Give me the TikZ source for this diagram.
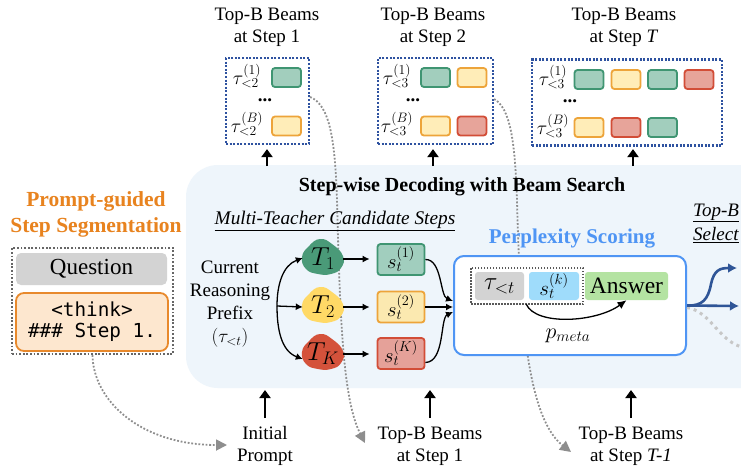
\RequirePackage{fix-cm}
\documentclass[tikz,border=0pt]{standalone}
\usepackage{fontspec}
\setmainfont{Liberation Serif}
\setmonofont{DejaVu Sans Mono}
\usetikzlibrary{arrows.meta}
\definecolor{panelbg}{HTML}{EEF5FB}
\definecolor{dblue}{HTML}{2E52A0}
\definecolor{gfill}{HTML}{A2CEBD}
\definecolor{gline}{HTML}{3F9572}
\definecolor{yfill}{HTML}{FFEDB8}
\definecolor{yline}{HTML}{EDA43A}
\definecolor{rfill}{HTML}{E7A49A}
\definecolor{rline}{HTML}{D24D37}
\definecolor{tgreen}{HTML}{4A9A78}
\definecolor{tyellow}{HTML}{FFD966}
\definecolor{tred}{HTML}{D4523B}
\definecolor{orangeT}{HTML}{E8831F}
\definecolor{ppblue}{HTML}{4F95F4}
\definecolor{arrblue}{HTML}{2F5597}
\definecolor{qgray}{HTML}{D3D3D3}
\definecolor{thinkfill}{HTML}{FDE7CF}
\definecolor{thinkline}{HTML}{E8892C}
\definecolor{skblue}{HTML}{9FDCFB}
\definecolor{ansgreen}{HTML}{B4E3A2}
\definecolor{dotgray}{HTML}{8E8E8E}
\definecolor{s1fill}{HTML}{A1CEBE}
\definecolor{s2fill}{HTML}{FBE9B0}
\definecolor{skfill}{HTML}{E5A199}
\newcommand\myfs[2]{\fontsize{#1}{#2}\selectfont}
\begin{document}
\begin{tikzpicture}[x=1pt,y=-1pt,
  lbl/.style={font=\myfs{19}{22}, align=center, inner sep=0pt},
  mini/.style={rounded corners=3pt, line width=1.8pt, minimum width=29pt, minimum height=19pt, inner sep=0pt},
  gmini/.style={mini, fill=gfill, draw=gline},
  ymini/.style={mini, fill=yfill, draw=yline},
  rmini/.style={mini, fill=rfill, draw=rline},
  taulbl/.style={font=\myfs{19.5}{22}, inner sep=0pt},
  dotslbl/.style={font=\myfs{19}{22}\bfseries, inner sep=0pt},
  beambox/.style={draw=dblue, line width=2.2pt, dash pattern=on 2pt off 1.6pt, inner sep=0pt},
  bigarrow/.style={line width=2.8pt, -{Triangle[length=8pt,width=11pt]}},
  gcurve/.style={draw=dotgray, line width=1.8pt, dash pattern=on 1.8pt off 1.8pt, -{Triangle[length=11pt,width=11pt,fill=dotgray]}},
  sbox/.style={line width=1.8pt, rounded corners=3pt, minimum width=47pt, minimum height=31pt, inner sep=0pt, font=\myfs{20.5}{22}},
  tnode/.style={minimum width=40pt, minimum height=34pt, inner sep=0pt, font=\myfs{26}{28}},
  fork/.style={line width=1.3pt, -{Latex[length=7pt,width=7pt]}},
  ppbox/.style={rounded corners=3pt, minimum height=28pt, inner sep=0pt},
  blob/.style={smooth cycle, tension=0.8}
]
\clip (0,0) rectangle (741,467);
\fill[white] (0,0) rectangle (741,467);

% panel
\fill[panelbg, rounded corners=32pt] (186,165) rectangle (800,388);

% top beam boxes
\node[beambox, minimum width=83pt, minimum height=86pt] (b1) at (267.5,101) {};
\node[beambox, minimum width=115pt, minimum height=86pt] (b2) at (435.5,101) {};
\node[beambox, minimum width=190pt, minimum height=86pt] (bT) at (627,102.5) {};

\node[lbl] (h1) at (267,27) {Top-B Beams\\at Step 1};
\node[lbl] (h2) at (433,27) {Top-B Beams\\at Step 2};
\node[lbl] (hT) at (624,27) {Top-B Beams\\at Step \textit{T}};

% step 1 contents
\node[taulbl] (a11) at (247,76) {$\tau^{(1)}_{<2}$};
\node[dotslbl] (a1d) at (265,100) {...};
\node[taulbl] (a12) at (247,124) {$\tau^{(B)}_{<2}$};
\node[gmini] (m111) at (286.5,77.5) {};
\node[ymini] (m121) at (286.5,126) {};

% step 2 contents
\node[taulbl] (a21) at (397,76) {$\tau^{(1)}_{<3}$};
\node[dotslbl] (a2d) at (413,100) {...};
\node[taulbl] (a22) at (397,124) {$\tau^{(B)}_{<3}$};
\node[gmini] (m211) at (435.5,77.5) {};
\node[ymini] (m212) at (472,77.5) {};
\node[ymini] (m221) at (435.5,126) {};
\node[rmini] (m222) at (472,126) {};

% step T contents
\node[taulbl] (aT1) at (553,77) {$\tau^{(1)}_{<3}$};
\node[dotslbl] (aTd) at (570,101) {...};
\node[taulbl] (aT2) at (553,126) {$\tau^{(B)}_{<3}$};
\node[gmini] (mT11) at (589,79.5) {};
\node[ymini] (mT12) at (626,79.5) {};
\node[gmini] (mT13) at (662.5,79.5) {};
\node[rmini] (mT14) at (699,79.5) {};
\node[ymini] (mT21) at (589,127.5) {};
\node[rmini] (mT22) at (626,127.5) {};
\node[gmini] (mT23) at (662.5,127.5) {};

% left segmentation block
\node[font=\myfs{21.5}{26}\bfseries, text=orangeT, align=center, inner sep=0pt] (segt) at (96,214.5) {Prompt-guided\\Step Segmentation};
\node[draw=black!60, line width=2pt, dash pattern=on 1.8pt off 1.8pt, minimum width=161pt, minimum height=106pt, inner sep=0pt] (seg) at (92.5,301) {};
\node[fill=qgray, rounded corners=5pt, minimum width=151pt, minimum height=32pt, inner sep=0pt, font=\myfs{23}{25}] (q) at (91.5,269) {Question};
\node[fill=thinkfill, draw=thinkline, line width=1.8pt, rounded corners=8pt, minimum width=152pt, minimum height=58pt, inner sep=0pt, font=\ttfamily\myfs{19.3}{21}, align=center] (think) at (92,322) {<think>\\\#\#\# Step 1.};

% bottom labels
\node[lbl] (ip) at (265,446) {Initial\\Prompt};
\node[lbl] (bb1) at (430,446) {Top-B Beams\\at Step 1};
\node[lbl] (bbT) at (631,446) {Top-B Beams\\at Step \textit{T-1}};

% gray dotted curves
\coordinate (g1) at (227,445);
\coordinate (g2) at (365,443);
\coordinate (g3) at (571,452);
\draw[gcurve] (seg.south) .. controls (93,400) and (140,445) .. (g1);
\draw[gcurve] ([yshift=4pt]b1.east) .. controls (330,105) and (335,140) .. (337,200) .. controls (340,320) and (343,400) .. (g2);
\draw[gcurve] ([yshift=2pt]b2.east) .. controls (510,108) and (515,140) .. (517,200) .. controls (520,330) and (530,420) .. (g3);

% up arrows top
\coordinate (u1) at (267,166);
\coordinate (u2) at (433,166);
\coordinate (uT) at (633,166);
\draw[bigarrow, shorten >=4pt] (u1) -- (u1 |- b1.south);
\draw[bigarrow, shorten >=4pt] (u2) -- (u2 |- b2.south);
\draw[bigarrow, shorten >=2.5pt] (uT) -- (uT |- bT.south);

% up arrows bottom
\coordinate (d1) at (265,390);
\coordinate (d2) at (430,390);
\coordinate (dT) at (631,390);
\draw[bigarrow] (265,418) -- (d1);
\draw[bigarrow] (430,418) -- (d2);
\draw[bigarrow] (631,418) -- (dT);

% panel titles
\node[font=\myfs{20}{22}\bfseries, inner sep=0pt] (title) at (462,187) {Step-wise Decoding with Beam Search};
\node[font=\myfs{19.3}{22}\itshape, inner sep=0pt] (mt) at (335,221) {\underline{Multi-Teacher Candidate Steps}};
\node[font=\myfs{19}{22}\itshape, inner sep=0pt, anchor=west] (sel1) at (693,213) {\underline{Top-B}};
\node[font=\myfs{19}{22}\itshape, inner sep=0pt, anchor=west] (sel2) at (693,235) {\underline{Select}};

% current reasoning prefix
\node[lbl, font=\myfs{19}{23}] (crp) at (230,304.5) {Current\\Reasoning\\Prefix\\$(\tau_{<t})$};
\coordinate (fk) at (277,306);

% teachers
\coordinate (c1) at (323,259);
\coordinate (c2) at (323,307);
\coordinate (cK) at (323,354);
\fill[tgreen, shift={(c1)}] plot[blob] coordinates {(-3,-20) (9,-15) (20,-3) (18,9) (8,15) (-5,15) (-17,10) (-21,-2) (-14,-13)};
\fill[tyellow, shift={(c2)}] plot[blob] coordinates {(-3,-20) (9,-15) (20,-3) (18,9) (8,15) (-5,15) (-17,10) (-21,-2) (-14,-13)};
\fill[tred, shift={(cK)}] plot[blob] coordinates {(-3,-20) (9,-15) (20,-3) (18,9) (8,15) (-5,15) (-17,10) (-21,-2) (-14,-13)};
\node[tnode] (T1) at (c1) {$T_1$};
\node[tnode] (T2) at (c2) {$T_2$};
\node[tnode] (TK) at (cK) {$T_K$};

\draw[fork] (fk) to[out=90, in=200] ([yshift=1pt]T1.west);
\draw[fork] (fk) -- (T2.west);
\draw[fork] (fk) to[out=-90, in=160] ([yshift=-5pt]TK.west);

% candidate steps
\node[sbox, fill=s1fill, draw=gline] (s1) at (401,259.5) {$s_t^{(1)}$};
\node[sbox, fill=s2fill, draw=yline] (s2) at (401,307) {$s_t^{(2)}$};
\node[sbox, fill=skfill, draw=rline] (sK) at (401,353.5) {$s_t^{(K)}$};

\draw[fork, shorten >=7pt] (T1.east) -- (T1.east -| s1.west);
\draw[fork, shorten >=7pt] (T2.east) -- (T2.east -| s2.west);
\draw[fork, shorten >=7pt] (TK.east) -- (TK.east -| sK.west);

% perplexity scoring
\node[draw=ppblue, line width=2pt, fill=white, rounded corners=10pt, minimum width=232pt, minimum height=99pt, inner sep=0pt] (pp) at (570,305.5) {};
\node[font=\myfs{21}{24}\bfseries, text=ppblue, inner sep=0pt] (ppt) at (572,239) {Perplexity Scoring};

\draw[fork] (s1.east) .. controls (442,259) and (440,296) .. ([yshift=4.5pt]pp.west);
\draw[fork] (s2.east) -- (s2.east -| pp.west);
\draw[fork] ([yshift=-9pt]sK.east) .. controls (445,362) and (440,318) .. ([yshift=-6.5pt]pp.west);

\node[ppbox, fill=qgray, minimum width=49pt, font=\myfs{25}{27}] (tau) at (499.5,286) {$\tau_{<t}$};
\node[ppbox, fill=skblue, minimum width=50pt, font=\myfs{21}{23}] (sk) at (554,286) {$s_t^{(k)}$};
\node[ppbox, fill=ansgreen, minimum width=83pt, font=\myfs{23.5}{26}] (ans) at (626.5,286) {Answer};
\draw[black!65, line width=1.5pt, dash pattern=on 1.5pt off 1.5pt] (471,268) rectangle (583,304);

\draw[fork, -{Latex[length=9pt,width=8pt]}] ([xshift=2pt,yshift=-4pt]tau.south east) .. controls +(10,22) and +(-30,22) .. (ans.south);
\node[font=\myfs{22}{24}, inner sep=0pt] (pm) at (568,336) {$p_{meta}$};

% outputs
\coordinate (o1) at (739,306);
\coordinate (o2) at (737,268);
\coordinate (o3) at (745,348);
\draw[line width=3pt, color=black!22, dash pattern=on 3pt off 4pt] ([yshift=-2pt]pp.east) .. controls (712,312) and (718,342) .. (o3);
\draw[arrblue, line width=2.6pt, -{Latex[length=9pt,width=10pt]}] (pp.east) -- (o1);
\draw[arrblue, line width=2.6pt, -{Latex[length=9pt,width=10pt]}] (pp.east) .. controls (702,306) and (708,300) .. (711,284) .. controls (714,270) and (720,268) .. (o2);
\end{tikzpicture}
\end{document}
